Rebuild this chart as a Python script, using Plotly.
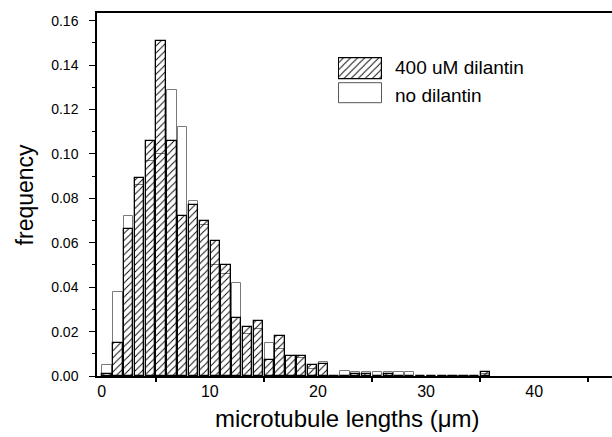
import plotly.graph_objects as go

# bin centres (1 µm bins) and frequencies
bin_centers = [i + 0.5 for i in range(36)]
dilantin_400 = [0.001, 0.015, 0.066, 0.089, 0.106, 0.151, 0.106, 0.072, 0.077, 0.070,
                0.061, 0.050, 0.026, 0.022, 0.025, 0.007, 0.018, 0.009, 0.009, 0.005,
                0.0055, 0, 0, 0.001, 0.001, 0, 0.001, 0, 0, 0,
                0, 0, 0, 0, 0, 0.002]
no_dilantin = [0.005, 0.038, 0.072, 0.086, 0.097, 0.100, 0.129, 0.112, 0.079, 0.068,
               0.050, 0.046, 0.042, 0.019, 0.021, 0.015, 0.012, 0.009, 0.008, 0.003,
               0.0063, 0, 0.0024, 0.002, 0.002, 0.002, 0.002, 0.002, 0.002, 0,
               0, 0, 0, 0, 0, 0.001]
series_names = ["400 uM dilantin", "no dilantin"]
x_label_vals = [0, 10, 20, 30, 40]
x_tick_vals = [5, 15, 25, 35, 45]
y_tick_vals = [0.00, 0.02, 0.04, 0.06, 0.08, 0.10, 0.12, 0.14, 0.16]

FONT = "Liberation Sans, Arial, sans-serif"
XR = [-0.43, 47.2]
YR = [0, 0.1635]

fig = go.Figure()
fig.add_trace(go.Bar(x=bin_centers, y=no_dilantin, width=0.86, name=series_names[1],
                     marker=dict(color="white", line=dict(color="#7a7a7a", width=1)),
                     opacity=1, showlegend=False))
fig.add_trace(go.Bar(x=bin_centers, y=dilantin_400, width=0.86, name=series_names[0],
                     marker=dict(color="black", line=dict(color="black", width=1.3),
                                 pattern=dict(shape="/", fillmode="replace", size=5, solidity=0.18)),
                     opacity=1, showlegend=False))

# legend swatches on their own small axes
fig.add_trace(go.Bar(x=[1], y=[1], orientation="h", width=0.83, xaxis="x3", yaxis="y3",
                     marker=dict(color="black", line=dict(color="black", width=1.2),
                                 pattern=dict(shape="/", fillmode="replace", size=5, solidity=0.18)),
                     showlegend=False, hoverinfo="skip"))
fig.add_trace(go.Bar(x=[1], y=[0], orientation="h", width=0.83, xaxis="x3", yaxis="y3",
                     marker=dict(color="white", line=dict(color="#555555", width=1)),
                     showlegend=False, hoverinfo="skip"))

fig.update_layout(
    width=612, height=437,
    margin=dict(l=97, r=0, t=13, b=61),
    paper_bgcolor="white", plot_bgcolor="white",
    barmode="overlay", bargap=0,
    font=dict(family=FONT, color="black"),
    xaxis=dict(range=XR, showline=True, linecolor="black", linewidth=1.5, mirror=True,
               showgrid=False, zeroline=False,
               tickmode="array", tickvals=x_label_vals, ticktext=[str(v) for v in x_label_vals],
               ticks="", tickfont=dict(size=16, family=FONT),
               minor=dict(tickvals=x_tick_vals, ticks="outside", ticklen=4,
                          tickwidth=1.5, tickcolor="black")),
    xaxis2=dict(range=XR, overlaying="x", anchor="y", side="bottom", showline=False,
                showgrid=False, zeroline=False, tickmode="array", tickvals=x_tick_vals,
                ticks="inside", ticklen=6, tickwidth=1.5, tickcolor="black",
                showticklabels=False),
    yaxis=dict(range=YR, showline=True, linecolor="black", linewidth=1.5,
               showgrid=False, zeroline=False,
               tickmode="array", tickvals=y_tick_vals, tickformat=".2f",
               ticks="outside", ticklen=6, tickwidth=1.2, tickcolor="black",
               ticklabelstandoff=8,
               tickfont=dict(size=14, family=FONT),
               minor=dict(dtick=0.01, tick0=0.01, ticks="outside", ticklen=3,
                          tickwidth=1, tickcolor="black")),
    xaxis3=dict(domain=[0.468, 0.555], range=[-0.02, 1.02], visible=False, anchor="y3"),
    yaxis3=dict(domain=[0.745, 0.881], range=[-0.5, 1.5], visible=False, anchor="x3"),
)

fig.add_annotation(x=0.575, y=0.851, xref="paper", yref="paper", text=series_names[0],
                   showarrow=False, xanchor="left", yanchor="middle",
                   font=dict(size=19, family=FONT))
fig.add_annotation(x=0.575, y=0.774, xref="paper", yref="paper", text=series_names[1],
                   showarrow=False, xanchor="left", yanchor="middle",
                   font=dict(size=19, family=FONT))
fig.add_annotation(x=0.487, y=-0.116, xref="paper", yref="paper",
                   text="microtubule lengths (\u03bcm)", showarrow=False,
                   xanchor="center", yanchor="middle", font=dict(size=24, family=FONT))
fig.add_annotation(x=-0.14, y=0.5, xref="paper", yref="paper", text="frequency",
                   textangle=-90, showarrow=False, xanchor="center", yanchor="middle",
                   font=dict(size=23, family=FONT))

fig.write_html("out.html")
